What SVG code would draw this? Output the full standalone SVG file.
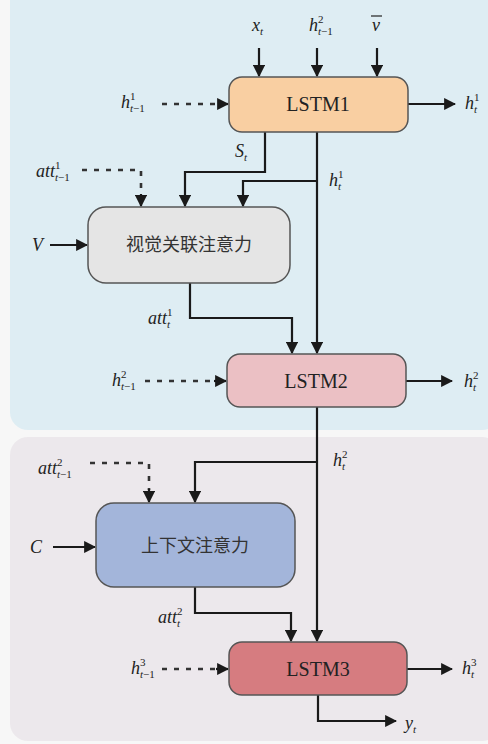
<svg xmlns="http://www.w3.org/2000/svg" width="488" height="744" viewBox="0 0 488 744">
<style>
.box{stroke:#555;stroke-width:1.5}
.ln{fill:none;stroke:#1a1a1a;stroke-width:2.2}
.ds{fill:none;stroke:#333;stroke-width:2.6;stroke-dasharray:5 7}
text{font-family:"Liberation Serif","Times New Roman","DejaVu Serif",serif;fill:#222}
.lb{font-style:italic;font-size:18px}
.sp{font-style:normal;font-size:11px}
.si{font-style:italic;font-size:11px}
.nt{font-family:"Liberation Serif","Times New Roman",serif;font-size:20px;text-anchor:middle}
.cn{font-family:"Noto Sans CJK SC",sans-serif;font-size:18px;fill:#333;text-anchor:middle}
</style>
<defs>
<marker id="ah" viewBox="0 0 10 10" refX="9" refY="5" markerWidth="5.5" markerHeight="5.5" orient="auto" markerUnits="strokeWidth">
<path d="M0,0 L10,5 L0,10 z" fill="#1a1a1a"/>
</marker>
</defs>
<rect x="0" y="0" width="488" height="744" fill="#f7f7f7"/>
<rect id="panel1" x="10" y="-20" width="490" height="450" rx="18" fill="#deedf3"/>
<rect id="panel2" x="10" y="437" width="490" height="304" rx="18" fill="#ece8ec"/>

<g id="connectors">
<line class="ln" x1="259" y1="48" x2="259" y2="76" marker-end="url(#ah)"/>
<line class="ln" x1="317" y1="48" x2="317" y2="76" marker-end="url(#ah)"/>
<line class="ln" x1="377" y1="48" x2="377" y2="76" marker-end="url(#ah)"/>
<line class="ds" x1="162" y1="104" x2="222" y2="104"/>
<line class="ln" x1="218" y1="104" x2="228" y2="104" marker-end="url(#ah)"/>
<line class="ln" x1="408" y1="104" x2="455" y2="104" marker-end="url(#ah)"/>
<polyline class="ln" points="265,132 265,172 185,172 185,206" marker-end="url(#ah)"/>
<line class="ln" x1="317" y1="132" x2="317" y2="353" marker-end="url(#ah)"/>
<polyline class="ln" points="317,181 243,181 243,206" marker-end="url(#ah)"/>
<polyline class="ds" points="82,170 141,170 141,196"/>
<line class="ln" x1="141" y1="194" x2="141" y2="206" marker-end="url(#ah)"/>
<line class="ln" x1="50" y1="245" x2="87" y2="245" marker-end="url(#ah)"/>
<polyline class="ln" points="190,283 190,318 292,318 292,353" marker-end="url(#ah)"/>
<line class="ds" x1="145" y1="381" x2="218" y2="381"/>
<line class="ln" x1="214" y1="381" x2="226" y2="381" marker-end="url(#ah)"/>
<line class="ln" x1="406" y1="381" x2="452" y2="381" marker-end="url(#ah)"/>
<line class="ln" x1="317" y1="407" x2="317" y2="641" marker-end="url(#ah)"/>
<polyline class="ln" points="317,462 195,462 195,502" marker-end="url(#ah)"/>
<polyline class="ds" points="90,463 149,463 149,490"/>
<line class="ln" x1="149" y1="489" x2="149" y2="502" marker-end="url(#ah)"/>
<line class="ln" x1="53" y1="547" x2="95" y2="547" marker-end="url(#ah)"/>
<polyline class="ln" points="195,587 195,613 291,613 291,641" marker-end="url(#ah)"/>
<line class="ds" x1="162" y1="669" x2="220" y2="669"/>
<line class="ln" x1="216" y1="669" x2="228" y2="669" marker-end="url(#ah)"/>
<line class="ln" x1="407" y1="669" x2="452" y2="669" marker-end="url(#ah)"/>
<polyline class="ln" points="318,695 318,721 396,721" marker-end="url(#ah)"/>
</g>

<g id="lstm1">
<rect class="box" x="229" y="77" width="179" height="55" rx="13" fill="#f9cfa2"/>
<text class="nt" x="318" y="111">LSTM1</text>
</g>
<g id="vis">
<rect class="box" x="88" y="207" width="202" height="76" rx="18" fill="#e5e5e5"/>
<text class="cn" x="189" y="251">视觉关联注意力</text>
</g>
<g id="lstm2">
<rect class="box" x="227" y="354" width="179" height="53" rx="13" fill="#ebc0c4"/>
<text class="nt" x="316" y="388">LSTM2</text>
</g>
<g id="ctx">
<rect class="box" x="96" y="503" width="199" height="84" rx="18" fill="#a3b5da"/>
<text class="cn" x="195" y="552">上下文注意力</text>
</g>
<g id="lstm3">
<rect class="box" x="229" y="642" width="178" height="53" rx="13" fill="#d67c80"/>
<text class="nt" x="318" y="676">LSTM3</text>
</g>

<g id="labels">
<text class="lb" x="252" y="31">x<tspan class="si" dy="4">t</tspan></text>
<text class="lb" x="309" y="31">h<tspan class="sp" dy="-8">2</tspan><tspan class="si" dx="-5.5" dy="12">t</tspan><tspan class="sp">−1</tspan></text>
<text class="lb" x="372" y="31">v</text><line x1="371" y1="16" x2="382" y2="16" stroke="#222" stroke-width="1.2"/>
<text class="lb" x="121" y="108">h<tspan class="sp" dy="-8">1</tspan><tspan class="si" dx="-5.5" dy="12">t</tspan><tspan class="sp">−1</tspan></text>
<text class="lb" x="465" y="109">h<tspan class="sp" dy="-8">1</tspan><tspan class="si" dx="-5.5" dy="12">t</tspan></text>
<text class="lb" x="235" y="157">S<tspan class="si" dy="4">t</tspan></text>
<text class="lb" x="329" y="186">h<tspan class="sp" dy="-8">1</tspan><tspan class="si" dx="-5.5" dy="12">t</tspan></text>
<text class="lb" x="36" y="177">att<tspan class="sp" dy="-8">1</tspan><tspan class="si" dx="-5.5" dy="12">t</tspan><tspan class="sp">−1</tspan></text>
<text class="lb" x="32" y="251">V</text>
<text class="lb" x="148" y="324">att<tspan class="sp" dy="-8">1</tspan><tspan class="si" dx="-5.5" dy="12">t</tspan></text>
<text class="lb" x="112" y="386">h<tspan class="sp" dy="-8">2</tspan><tspan class="si" dx="-5.5" dy="12">t</tspan><tspan class="sp">−1</tspan></text>
<text class="lb" x="464" y="387">h<tspan class="sp" dy="-8">2</tspan><tspan class="si" dx="-5.5" dy="12">t</tspan></text>
<text class="lb" x="333" y="466">h<tspan class="sp" dy="-8">2</tspan><tspan class="si" dx="-5.5" dy="12">t</tspan></text>
<text class="lb" x="38" y="474">att<tspan class="sp" dy="-8">2</tspan><tspan class="si" dx="-5.5" dy="12">t</tspan><tspan class="sp">−1</tspan></text>
<text class="lb" x="30" y="553">C</text>
<text class="lb" x="158" y="623">att<tspan class="sp" dy="-8">2</tspan><tspan class="si" dx="-5.5" dy="12">t</tspan></text>
<text class="lb" x="131" y="674">h<tspan class="sp" dy="-8">3</tspan><tspan class="si" dx="-5.5" dy="12">t</tspan><tspan class="sp">−1</tspan></text>
<text class="lb" x="462" y="674">h<tspan class="sp" dy="-8">3</tspan><tspan class="si" dx="-5.5" dy="12">t</tspan></text>
<text class="lb" x="405" y="729">y<tspan class="si" dy="4">t</tspan></text>
</g>
</svg>
